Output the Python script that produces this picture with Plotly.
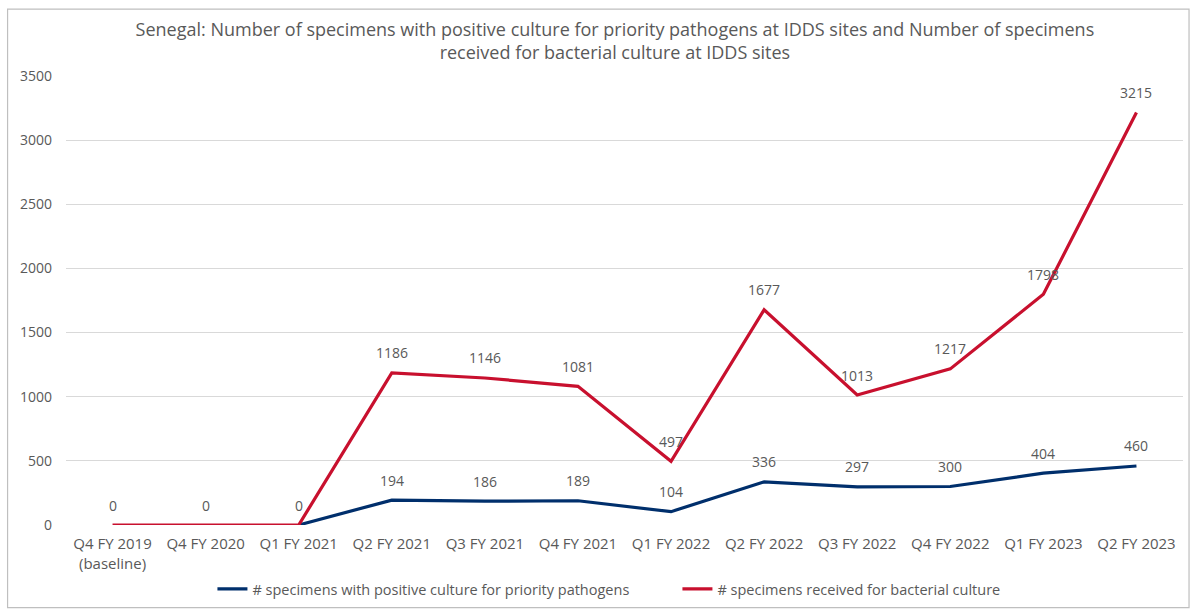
import plotly.graph_objects as go

# Reporting quarters (x axis)
quarters = [
    "Q4 FY 2019<br>(baseline)", "Q4 FY 2020", "Q1 FY 2021", "Q2 FY 2021",
    "Q3 FY 2021", "Q4 FY 2021", "Q1 FY 2022", "Q2 FY 2022", "Q3 FY 2022",
    "Q4 FY 2022", "Q1 FY 2023", "Q2 FY 2023",
]

# Specimens with positive culture for priority pathogens
positive = [None, None, 0, 194, 186, 189, 104, 336, 297, 300, 404, 460]

# Specimens received for bacterial culture
received = [0, 0, 0, 1186, 1146, 1081, 497, 1677, 1013, 1217, 1798, 3215]

y_ticks = [0, 500, 1000, 1500, 2000, 2500, 3000, 3500]

NAVY = "#002F6C"
RED = "#C8102E"
GREY_TXT = "#595959"
FONT = "Open Sans"

fig = go.Figure()
fig.add_trace(go.Scatter(
    x=quarters, y=positive, mode="lines", connectgaps=False,
    name="# specimens with positive culture for priority pathogens",
    line=dict(color=NAVY, width=3.2),
))
fig.add_trace(go.Scatter(
    x=quarters, y=received, mode="lines",
    name="# specimens received for bacterial culture",
    line=dict(color=RED, width=3.2),
))

# Data labels above each point
annotations = []
for q, v in zip(quarters, received):
    annotations.append(dict(x=q, y=v, xref="x", yref="y", text=str(v),
                            showarrow=False, yshift=20,
                            font=dict(family=FONT, size=14, color=GREY_TXT)))
for q, v in zip(quarters, positive):
    if v is None or v == 0:
        continue
    annotations.append(dict(x=q, y=v, xref="x", yref="y", text=str(v),
                            showarrow=False, yshift=20,
                            font=dict(family=FONT, size=14, color=GREY_TXT)))

# Outer frame around the chart
shapes = [dict(type="rect", xref="paper", yref="paper",
               x0=-0.0523, x1=1.0054, y0=-0.184, y1=1.149,
               line=dict(color="#BFBFBF", width=1.2), fillcolor="rgba(0,0,0,0)",
               layer="below")]

fig.update_layout(
    width=1194, height=610,
    margin=dict(l=65.5, r=11, t=76, b=85, autoexpand=False),
    paper_bgcolor="white", plot_bgcolor="white",
    font=dict(family=FONT, color=GREY_TXT, size=13),
    title=dict(
        text="Senegal: Number of specimens with positive culture for priority pathogens at IDDS sites and Number of specimens<br>received for bacterial culture at IDDS sites",
        x=0.515, xref="container", xanchor="center",
        y=1 - 36 / 610, yref="container", yanchor="middle",
        font=dict(family=FONT, size=18, color=GREY_TXT),
    ),
    xaxis=dict(showgrid=False, showline=False, ticks="", automargin=False,
               range=[-0.5, len(quarters) - 0.5], ticklabelstandoff=8,
               tickfont=dict(family=FONT, size=15, color=GREY_TXT)),
    yaxis=dict(range=[0, 3500], tickvals=y_ticks, showgrid=True,
               gridcolor="#D9D9D9", gridwidth=1, zeroline=False,
               showline=False, ticks="", ticklabelstandoff=13, automargin=False,
               tickfont=dict(family=FONT, size=14, color=GREY_TXT)),
    legend=dict(orientation="h", x=(212 - 65.5) / 1117.5, xanchor="left",
                y=-0.1425, yanchor="middle",
                font=dict(family=FONT, size=14.5, color=GREY_TXT),
                itemwidth=30, entrywidth=420),
    showlegend=True,
    annotations=annotations,
    shapes=shapes,
)

fig.write_html("out.html")
